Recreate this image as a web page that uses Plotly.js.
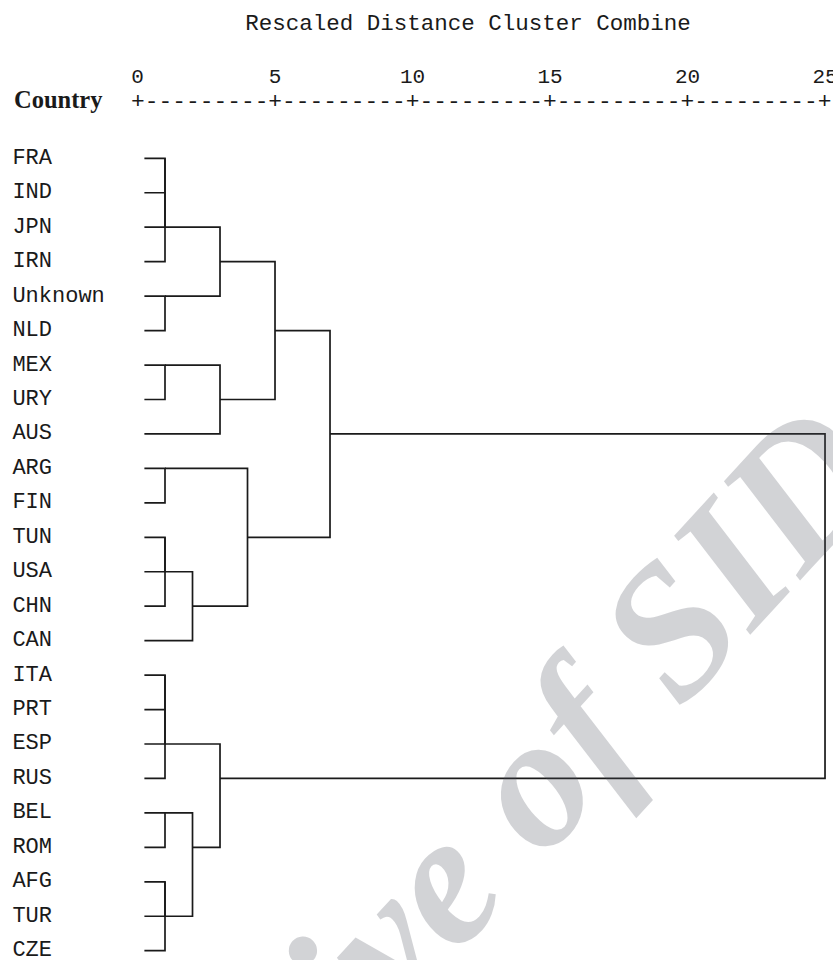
<!DOCTYPE html>
<html>
<head>
<meta charset="utf-8">
<script src="https://cdn.plot.ly/plotly-3.0.1.min.js"></script>
<style>html,body{margin:0;padding:0;background:#fff;}#chart{width:833px;height:960px;}</style>
</head>
<body>
<div id="chart"></div>
<script>
// ---- data ----
const countries = ["FRA","IND","JPN","IRN","Unknown","NLD","MEX","URY","AUS","ARG","FIN","TUN","USA","CHN","CAN","ITA","PRT","ESP","RUS","BEL","ROM","AFG","TUR","CZE"];
// agglomeration schedule: ids 0..23 are leaves, merge k creates cluster id 24+k
const mergeLeft     = [0,24,25,4,26,6,29,28,9,11,33,34,32,31,15,38,39,19,21,42,41,40,37];
const mergeRight    = [1,2,3,5,27,7,8,30,10,12,13,14,35,36,16,17,18,20,22,23,43,44,45];
const mergeDistance = [1,1,1,1,3,1,3,5,1,1,1,2,4,7,1,1,1,1,1,1,2,3,25];
const tickValues = [0,5,10,15,20,25];
const tickLabels = ["0","5","10","15","20","25"];
const xLabel = "Rescaled Distance Cluster Combine";
const rowHeader = "Country";
const watermark = "Archive of SID";

// ---- build dendrogram segments ----
const LEAF_START = 0.25;
const nodes = {};
countries.forEach((c, i) => { nodes[i] = {x: LEAF_START, y: i}; });
const lx = [], ly = [];
mergeDistance.forEach((d, k) => {
  const a = nodes[mergeLeft[k]], b = nodes[mergeRight[k]];
  lx.push(a.x, d, d, b.x, null);
  ly.push(a.y, a.y, b.y, b.y, null);
  nodes[countries.length + k] = {x: d, y: Math.floor((a.y + b.y) / 2)};
});

const mono = "Liberation Mono, Courier New, monospace";
const ink = "#1a1a1a";

const traces = [
  {
    type: "scatter", mode: "lines", x: lx, y: ly,
    line: {color: ink, width: 1.7}, hoverinfo: "skip", showlegend: false,
    cliponaxis: false
  },
  {
    type: "scatter", mode: "text",
    x: countries.map(() => -4.55), y: countries.map((c, i) => i),
    text: countries, textposition: "middle right",
    textfont: {family: mono, size: 22, color: ink},
    hoverinfo: "skip", showlegend: false, cliponaxis: false
  }
];

// ruler line (SPSS text style)
let ruler = "+";
for (let t = 1; t < tickValues.length; t++) ruler += "---------+";

const layout = {
  width: 833, height: 960,
  margin: {l: 0, r: 0, t: 90, b: 0},
  paper_bgcolor: "#ffffff", plot_bgcolor: "#ffffff",
  showlegend: false,
  title: {
    text: xLabel,
    font: {family: mono, size: 22.5, color: ink},
    x: 468/833, xanchor: "center", xref: "paper",
    y: 1 - 22/960, yanchor: "middle", yref: "container"
  },
  xaxis: {
    range: [-5, 25.29], side: "top",
    tickvals: tickValues, ticktext: tickLabels,
    tickfont: {family: mono, size: 21, color: ink},
    ticklabeloverflow: "allow", ticklabelstandoff: 2,
    showgrid: false, zeroline: false, showline: false, ticks: "",
    fixedrange: true
  },
  yaxis: {
    range: [23.27, -1.983], visible: false, showgrid: false, zeroline: false,
    fixedrange: true
  },
  annotations: [
    {
      text: ruler, x: 12.5, y: -1.634, xref: "x", yref: "y",
      xanchor: "center", yanchor: "middle", showarrow: false,
      font: {family: mono, size: 22.9, color: ink}
    },
    {
      text: "<b>" + rowHeader + "</b>", x: 12/833, y: -1.70, xref: "paper", yref: "y",
      xanchor: "left", yanchor: "middle", showarrow: false,
      font: {family: "Liberation Serif, Times New Roman, serif", size: 24.5, color: ink}
    },
    {
      text: "<b><i>" + watermark + "</i></b>", x: 447/833, y: (960-871)/870,
      xref: "paper", yref: "paper", xanchor: "center", yanchor: "middle",
      showarrow: false, textangle: -47.5, opacity: 0.25,
      font: {family: "Liberation Serif, Times New Roman, serif", size: 188, color: "rgb(79,83,95)"}
    }
  ]
};

Plotly.newPlot("chart", traces, layout, {displayModeBar: false, staticPlot: true});
</script>
</body>
</html>
